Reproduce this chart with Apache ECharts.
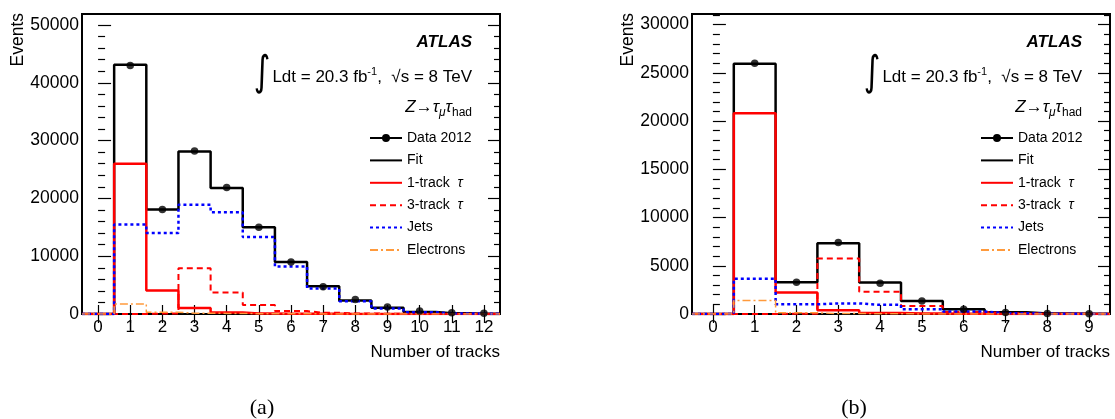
<!DOCTYPE html>
<html>
<head>
<meta charset="utf-8">
<script src="https://cdn.jsdelivr.net/npm/echarts@6/dist/echarts.min.js"></script>
<style>
  html, body { margin: 0; padding: 0; background: #fff; }
  #chart { width: 1115px; height: 419px; }
</style>
</head>
<body>
<div id="chart"></div>
<script>
// (a) number of tracks, bins 0..12
const binsA = [0, 1, 2, 3, 4, 5, 6, 7, 8, 9, 10, 11, 12];
const dataA = [null, 43000, 18100, 28200, 21900, 15000, 9000, 4700, 2500, 1200, 500, 200, 130];
const fitA = [0, 43100, 18100, 28100, 21800, 15000, 9000, 4800, 2350, 1100, 350, 120, 50];
const oneTrackA = [0, 26000, 4050, 1050, 250, 100, 60, 40, 20, 10, 5, 0, 0];
const threeTrackA = [0, 0, 80, 7900, 3700, 1550, 500, 200, 100, 50, 20, 10, 0];
const jetsA = [0, 15500, 14000, 18900, 17600, 13300, 8200, 4400, 2200, 950, 300, 100, 50];
const electronsA = [0, 1750, 300, 150, 100, 50, 30, 20, 10, 0, 0, 0, 0];
const yTicksA = [0, 10000, 20000, 30000, 40000, 50000];

// (b) number of tracks, bins 0..9
const binsB = [0, 1, 2, 3, 4, 5, 6, 7, 8, 9];
const dataB = [null, 26000, 3300, 7400, 3200, 1350, 500, 150, 40, 20];
const fitB = [0, 25950, 3290, 7340, 3260, 1350, 490, 180, 50, 20];
const oneTrackB = [0, 20800, 2220, 400, 100, 40, 20, 10, 0, 0];
const threeTrackB = [0, 0, 30, 5750, 2300, 830, 220, 80, 30, 10];
const jetsB = [0, 3650, 1000, 1100, 950, 490, 250, 90, 20, 10];
const electronsB = [0, 1400, 120, 50, 20, 10, 0, 0, 0, 0];
const yTicksB = [0, 5000, 10000, 15000, 20000, 25000, 30000];

const FONT = 'Liberation Sans';

// histogram outline: edge points so the step line spans full bins
function hist(bins, vals) {
  const pts = [[bins[0] - 0.5, vals[0]]];
  bins.forEach((b, i) => pts.push([b, vals[i]]));
  pts.push([bins[bins.length - 1] + 0.5, vals[vals.length - 1]]);
  return pts;
}

function minors(max, step, majors) {
  const out = [];
  for (let v = step; v <= max; v += step) {
    if (majors.indexOf(v) < 0) out.push(v);
  }
  return out;
}

const styles = [
  { name: 'Fit', color: '#000', width: 2.5, type: 'solid' },
  { name: '1-track τ', color: '#ff0000', width: 2.5, type: 'solid' },
  { name: '3-track τ', color: '#ff0000', width: 2, type: [6, 4] },
  { name: 'Jets', color: '#0000ff', width: 2.5, type: [3, 3] },
  { name: 'Electrons', color: '#ff9a3c', width: 1.5, type: [8, 3, 2, 3] }
];

const grids = [];
const xAxes = [];
const yAxes = [];
const series = [];

function panel(p, left, yMax, minorStep, bins, yTicks, comps, data) {
  grids.push({
    left: left, top: 14, width: 418, height: 300,
    show: true, borderColor: '#000', borderWidth: 2, backgroundColor: 'transparent'
  });
  const xMin = bins[0] - 0.5, xMax = bins[bins.length - 1] + 0.5;
  const xBase = {
    type: 'value', gridIndex: p, min: xMin, max: xMax,
    axisLine: { show: false }, splitLine: { show: false }
  };
  xAxes.push(Object.assign({}, xBase, {
    position: 'bottom',
    axisTick: { inside: true, length: 9, customValues: bins, lineStyle: { color: '#000', width: 1.2 } },
    axisLabel: { customValues: bins, margin: 5, color: '#000', fontSize: 17, fontFamily: FONT }
  }));
  xAxes.push(Object.assign({}, xBase, {
    position: 'top',
    axisTick: { inside: true, length: 9, customValues: bins, lineStyle: { color: '#000', width: 1.2 } },
    axisLabel: { show: false }
  }));
  const minorTicks = minors(yMax, minorStep, yTicks);
  const yBase = {
    type: 'value', gridIndex: p, min: 0, max: yMax,
    axisLine: { show: false }, splitLine: { show: false }
  };
  yAxes.push(Object.assign({}, yBase, {
    position: 'left',
    axisTick: { inside: true, length: 13, customValues: yTicks, lineStyle: { color: '#000', width: 1.2 } },
    axisLabel: { customValues: yTicks, margin: 3, color: '#000', fontSize: 17.5, fontFamily: FONT,
      formatter: v => String(v) }
  }));
  yAxes.push(Object.assign({}, yBase, {
    position: 'left',
    axisTick: { inside: true, length: 7, customValues: minorTicks, lineStyle: { color: '#000', width: 1.2 } },
    axisLabel: { show: false }
  }));
  yAxes.push(Object.assign({}, yBase, {
    position: 'right',
    axisTick: { inside: true, length: 12, customValues: yTicks, lineStyle: { color: '#000', width: 1.2 } },
    axisLabel: { show: false }
  }));
  yAxes.push(Object.assign({}, yBase, {
    position: 'right',
    axisTick: { inside: true, length: 6, customValues: minorTicks, lineStyle: { color: '#000', width: 1.2 } },
    axisLabel: { show: false }
  }));

  styles.forEach((s, i) => {
    series.push({
      name: s.name, type: 'line', step: 'middle',
      xAxisIndex: 2 * p, yAxisIndex: 4 * p,
      symbol: 'none', silent: true,
      data: hist(bins, comps[i]),
      color: s.color,
      lineStyle: { color: s.color, width: s.width, type: s.type },
      z: 2 + i
    });
  });
  series.push({
    name: 'Data 2012', type: 'scatter',
    xAxisIndex: 2 * p, yAxisIndex: 4 * p,
    symbol: 'circle', symbolSize: 7.5, silent: true,
    color: '#000',
    data: bins.map((b, i) => [b, data[i]]).filter(d => d[1] !== null),
    z: 10
  });
}

panel(0, 82, 51900, 2000, binsA, yTicksA,
  [fitA, oneTrackA, threeTrackA, jetsA, electronsA], dataA);
panel(1, 692, 31100, 1000, binsB, yTicksB,
  [fitB, oneTrackB, threeTrackB, jetsB, electronsB], dataB);

const dataIcon = 'path://M0,3.1 L32,3.1 L32,4.9 L0,4.9 Z M16,0 A4,4 0 1 1 16,8 A4,4 0 1 1 16,0 Z';
const legendNames = [
  { name: 'Data 2012', icon: dataIcon, itemStyle: { opacity: 1 } },
  'Fit', '1-track τ', '3-track τ', 'Jets', 'Electrons'
];

function legend(left) {
  return {
    left: left, top: 131, orient: 'vertical', padding: 0,
    itemWidth: 32, itemHeight: 8, itemGap: 8.4,
    selectedMode: false,
    itemStyle: { opacity: 0 },
    textStyle: {
      fontSize: 14, fontFamily: FONT, color: '#000', lineHeight: 14,
      rich: { i: { fontSize: 14, fontFamily: FONT, fontStyle: 'italic', color: '#000' } }
    },
    formatter: name => name.replace('τ', ' {i|τ}'),
    data: legendNames
  };
}

function labels(dx, caption, captionX) {
  const r = 472 + dx;
  return [
    {
      type: 'text', x: r, y: 42,
      style: { text: 'ATLAS', align: 'right', verticalAlign: 'middle',
        fontSize: 17, fontWeight: 'bold', fontStyle: 'italic', fontFamily: FONT, fill: '#000' }
    },
    {
      type: 'text', x: 262 + dx, y: 74, scaleY: 1.3,
      style: { text: '∫', align: 'center', verticalAlign: 'middle',
        fontSize: 32, fontFamily: 'DejaVu Sans', fill: '#000' }
    },
    {
      type: 'text', x: r, y: 77,
      style: {
        text: 'Ldt = 20.3 fb{sup|-1},  √s = 8 TeV', align: 'right', verticalAlign: 'middle',
        fontSize: 17, fontFamily: FONT, fill: '#000', lineHeight: 22,
        rich: { sup: { fontSize: 11, fontFamily: FONT, lineHeight: 11, verticalAlign: 'top', fill: '#000' } }
      }
    },
    {
      type: 'text', x: r, y: 107,
      style: {
        text: '{it|Z}→{it|τ}{subi|μ}{it|τ}{sub|had}', align: 'right', verticalAlign: 'middle',
        fontSize: 17, fontFamily: FONT, fill: '#000', lineHeight: 24,
        rich: {
          it: { fontSize: 17, fontStyle: 'italic', fontFamily: FONT, lineHeight: 24, fill: '#000' },
          subi: { fontSize: 12, fontStyle: 'italic', fontFamily: FONT, lineHeight: 12, verticalAlign: 'bottom', fill: '#000' },
          sub: { fontSize: 12, fontFamily: FONT, lineHeight: 12, verticalAlign: 'bottom', fill: '#000' }
        }
      }
    },
    {
      type: 'text', x: 18 + dx, y: 13, rotation: Math.PI / 2,
      style: { text: 'Events', align: 'right', verticalAlign: 'middle',
        fontSize: 17.5, fontFamily: FONT, fill: '#000' }
    },
    {
      type: 'text', x: 500 + dx, y: 352,
      style: { text: 'Number of tracks', align: 'right', verticalAlign: 'middle',
        fontSize: 17, fontFamily: FONT, fill: '#000' }
    },
    {
      type: 'text', x: captionX, y: 408,
      style: { text: caption, align: 'center', verticalAlign: 'middle',
        fontSize: 22, fontFamily: 'Liberation Serif', fill: '#000' }
    }
  ];
}

const chart = echarts.init(document.getElementById('chart'), null, { renderer: 'canvas' });
chart.setOption({
  animation: false,
  backgroundColor: '#fff',
  textStyle: { fontFamily: FONT },
  grid: grids,
  xAxis: xAxes,
  yAxis: yAxes,
  legend: [legend(369), legend(980)],
  graphic: labels(0, '(a)', 262).concat(labels(610, '(b)', 854)),
  series: series
});
</script>
</body>
</html>
